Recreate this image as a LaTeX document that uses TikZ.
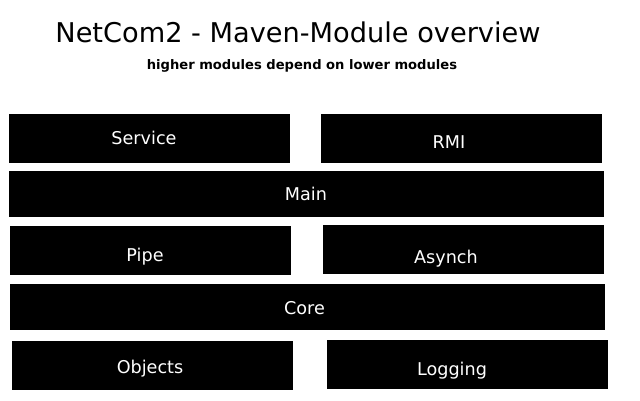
\documentclass[tikz,border=0pt]{standalone}
\usepackage{fontspec}
\setmainfont{DejaVu Sans}

\begin{document}
\begin{tikzpicture}[
    x=1pt, y=-1pt,
    module/.style={rectangle, fill=black, draw=none, inner sep=0pt,
        outer sep=0pt, minimum width=281pt, minimum height=49pt},
    wide/.style={module, minimum width=595pt, minimum height=46pt},
    modlabel/.style={anchor=base, inner sep=0pt, text=white,
        font=\fontsize{17.6}{20}\selectfont},
    heading/.style={anchor=base, inner sep=0pt,
        font=\fontsize{27.2}{32}\selectfont},
    subheading/.style={anchor=base, inner sep=0pt,
        font=\bfseries\fontsize{13.1}{15}\selectfont}
]
    \useasboundingbox (0,0) rectangle (640,400);
    \node[heading] (title) at (298,42) {NetCom2 - Maven-Module overview};
    \node[subheading] (subtitle) at (302,69) {higher modules depend on lower modules};

    \node[module] (service) at (149.5,138.5) {};
    \node[module] (rmi) at (461.5,138.5) {};
    \node[wide] (main) at (306.5,194) {};
    \node[module] (pipe) at (150.5,250.5) {};
    \node[module] (asynch) at (463.5,249.5) {};
    \node[wide] (core) at (307.5,307) {};
    \node[module] (objects) at (152.5,365.5) {};
    \node[module] (logging) at (467.5,364.5) {};

    \node[modlabel] (service-l) at (144,144) {Service};
    \node[modlabel] (rmi-l) at (449,148) {RMI};
    \node[modlabel] (main-l) at (306,200) {Main};
    \node[modlabel] (pipe-l) at (145,261) {Pipe};
    \node[modlabel] (asynch-l) at (446,263) {Asynch};
    \node[modlabel] (core-l) at (304.5,314) {Core};
    \node[modlabel] (objects-l) at (150,373) {Objects};
    \node[modlabel] (logging-l) at (452,375) {Logging};
\end{tikzpicture}
\end{document}
